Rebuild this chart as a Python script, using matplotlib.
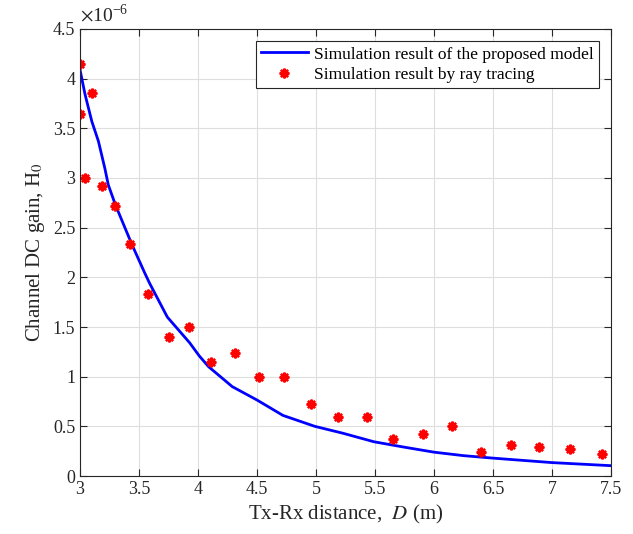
import matplotlib.pyplot as plt
from matplotlib.ticker import FuncFormatter

plt.rcParams['font.family'] = ['Liberation Serif', 'DejaVu Serif']
plt.rcParams['mathtext.fontset'] = 'stix'

# proposed model curve (H0 in units of 1e-6)
model_d = [3.0, 3.043, 3.10, 3.156, 3.21, 3.24, 3.30, 3.37, 3.44, 3.55, 3.59,
           3.74, 3.93, 4.01, 4.09, 4.29, 4.50, 4.72, 4.99, 5.23, 5.49, 5.75,
           6.0, 6.25, 6.5, 7.0, 7.5]
model_h = [4.09, 3.84, 3.57, 3.37, 3.10, 2.93, 2.73, 2.53, 2.33, 2.04, 1.94,
           1.60, 1.34, 1.21, 1.10, 0.90, 0.765, 0.61, 0.50, 0.43, 0.345, 0.29,
           0.24, 0.205, 0.18, 0.135, 0.104]

# ray tracing points
ray_d = [3.0, 3.0, 3.043, 3.105, 3.19, 3.30, 3.425, 3.58, 3.75, 3.92, 4.11, 4.31,
         4.52, 4.73, 4.96, 5.19, 5.43, 5.65, 5.91, 6.15, 6.40, 6.65, 6.89, 7.15, 7.42]
ray_h = [4.15, 3.64, 3.0, 3.86, 2.92, 2.72, 2.34, 1.83, 1.40, 1.50, 1.15, 1.24,
         1.0, 1.0, 0.72, 0.59, 0.59, 0.37, 0.42, 0.50, 0.245, 0.31, 0.295, 0.275, 0.225]

fig = plt.figure(figsize=(6.33, 5.34), dpi=100)
ax = fig.add_axes([0.1264, 0.1086, 0.8388, 0.8371])

ax.plot(model_d, [h * 1e-6 for h in model_h], color='#0000ff', lw=2,
        label='Simulation result of the proposed model')
ax.plot(ray_d, [h * 1e-6 for h in ray_h], ls='none', marker=(8, 2, 0), ms=7,
        mew=1.7, color='red', label='Simulation result by ray tracing')

ax.set_xlim(3, 7.5)
ax.set_ylim(0, 4.5e-6)
ax.set_xticks([3, 3.5, 4, 4.5, 5, 5.5, 6, 6.5, 7, 7.5])
ax.set_yticks([i * 0.5e-6 for i in range(10)])
ax.xaxis.set_major_formatter(FuncFormatter(lambda v, p: '%g' % v))
ax.yaxis.set_major_formatter(FuncFormatter(lambda v, p: '%g' % round(v * 1e6, 3)))
ax.text(0, 1.008, r'$\times$10$^{\mathdefault{-6}}$', transform=ax.transAxes,
        ha='left', va='bottom', fontsize=14, color='#262626')

ax.grid(True, color='#dedede', lw=0.8)
ax.set_axisbelow(True)
ax.tick_params(direction='in', top=True, right=True, labelsize=13,
               colors='#262626', length=5)
for s in ax.spines.values():
    s.set_color('#262626')

ax.set_xlabel('Tx-Rx distance,  $D$ (m)', fontsize=15, color='#262626')
ax.set_ylabel('Channel DC gain, H$_0$', fontsize=15, color='#262626')

leg = ax.legend(loc='upper right', fontsize=12.5, numpoints=1, fancybox=False,
                edgecolor='#262626', framealpha=1, borderaxespad=0.7,
                handlelength=2.7, handletextpad=0.35, labelspacing=0.25,
                borderpad=0.3)
leg.get_frame().set_linewidth(0.8)

fig.savefig('out.png', dpi=100)
